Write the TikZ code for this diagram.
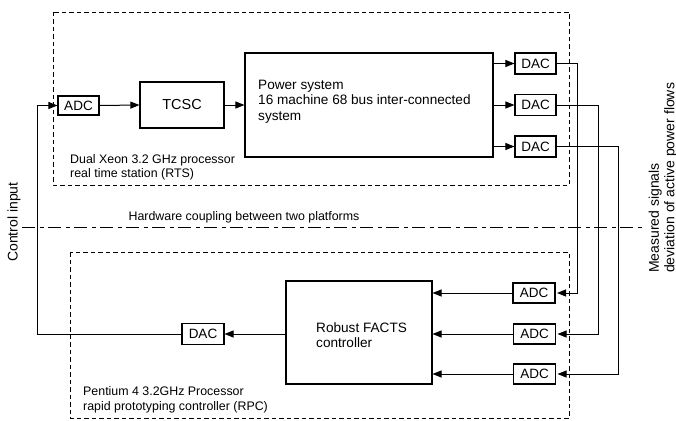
\documentclass[tikz,border=0pt]{standalone}
\usepackage{fontspec}
\setmainfont{Liberation Sans}
\usetikzlibrary{arrows.meta}
\begin{document}
\begin{tikzpicture}[x=1pt,y=-1pt,
  blk/.style={draw,line width=1.1pt,inner sep=0pt,font=\fontsize{13.5}{15.5}\selectfont},
  smallblk/.style={blk,minimum width=42pt,minimum height=20pt},
  arr/.style={line width=1pt,-{Triangle[length=9pt,width=7pt]}},
  dashbox/.style={line width=0.9pt,dash pattern=on 4.5pt off 3pt},
  couple/.style={line width=1pt,dash pattern=on 13pt off 4.5pt on 4pt off 4.5pt},
  lbl/.style={inner sep=0pt,align=left,font=\fontsize{12.4}{14.5}\selectfont}]
\useasboundingbox (0,0) rectangle (676,420);
% platforms
\draw[dashbox] (53,12) rectangle (569,185);
\draw[dashbox] (70,252) rectangle (569,418);
\draw[couple] (22,227) -- (644,227);
% top blocks
\node[smallblk,minimum width=41pt,minimum height=19pt] (adcT) at (78.5,105.5) {ADC};
\node[blk,minimum width=84pt,minimum height=46pt,font=\fontsize{14.5}{16}\selectfont] (tcsc) at (182,105) {TCSC};
\node[blk,minimum width=248pt,minimum height=104pt] (ps) at (369,105) {};
\node[lbl,anchor=west,font=\fontsize{13.6}{15.5}\selectfont] (pst) at (258,101.5) {Power system\\16 machine 68 bus inter-connected\\system};
\node[smallblk,minimum width=41pt,minimum height=21pt] (dac1) at (535.5,63.5) {DAC};
\node[smallblk,minimum width=41pt,minimum height=21pt] (dac2) at (535.5,105) {DAC};
\node[smallblk,minimum width=41pt,minimum height=21pt] (dac3) at (535.5,146.5) {DAC};
\node[lbl,anchor=west] (rts) at (70,167.5) {Dual Xeon 3.2 GHz processor\\real time station (RTS)};
% bottom blocks
\node[blk,minimum width=146pt,minimum height=103pt] (facts) at (359,332.5) {};
\node[lbl,anchor=west,font=\fontsize{13.6}{15.5}\selectfont] (factst) at (316,335) {Robust FACTS\\controller};
\node[smallblk] (adc1) at (534,293) {ADC};
\node[smallblk] (adc2) at (534.5,334) {ADC};
\node[smallblk] (adc3) at (534.5,374) {ADC};
\node[smallblk,minimum height=21pt] (dacB) at (203,334) {DAC};
\node[lbl,anchor=west] (rpc) at (83,400) {Pentium 4 3.2GHz Processor\\rapid prototyping controller (RPC)};
\node[lbl] (hw) at (244,217) {Hardware coupling between two platforms};
% side labels
\node[lbl,rotate=90,font=\fontsize{14}{15.5}\selectfont] (ci) at (14,222) {Control input};
\node[lbl,rotate=90,anchor=north west,font=\fontsize{14}{15.5}\selectfont] (ms) at (648.5,273) {Measured signals\\deviation of active power flows};
% connectors top
\draw[arr] (adcT.east) -- (tcsc.west);
\draw[arr] (tcsc.west -| tcsc.east) -- (ps.west);
\draw[arr] (ps.east |- dac1.west) -- (dac1.west);
\draw[arr] (ps.east |- dac2.west) -- (dac2.west);
\draw[arr] (ps.east |- dac3.west) -- (dac3.west);
% coupling wires
\coordinate (c1) at (577,0);
\coordinate (c2) at (598,0);
\coordinate (c3) at (618,0);
\coordinate (cl) at (37,0);
\draw[arr,shorten >=1.5pt] (dac1.east) -- (c1 |- dac1.east) -- (c1 |- adc1.east) -- (adc1.east);
\draw[arr,shorten >=1.5pt] (dac2.east) -- (c2 |- dac2.east) -- (c2 |- adc2.east) -- (adc2.east);
\draw[arr,shorten >=1.5pt] (dac3.east) -- (c3 |- dac3.east) -- (c3 |- adc3.east) -- (adc3.east);
% bottom connectors
\draw[arr] (adc1.west) -- (adc1.west -| facts.east);
\draw[arr] (adc2.west) -- (adc2.west -| facts.east);
\draw[arr] (adc3.west) -- (adc3.west -| facts.east);
\draw[arr] (facts.west |- dacB.east) -- (dacB.east);
\draw[arr] (dacB.west) -- (cl |- dacB.west) -- (cl |- adcT.west) -- (adcT.west);
\end{tikzpicture}
\end{document}
